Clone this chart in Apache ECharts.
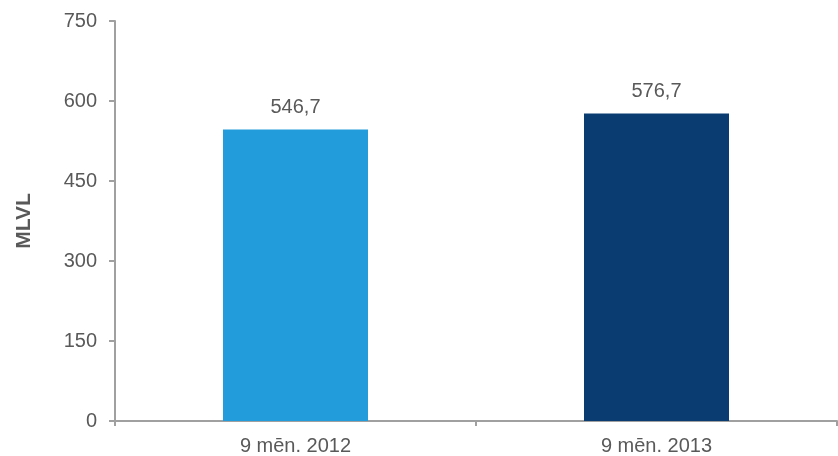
<!DOCTYPE html>
<html><head><meta charset="utf-8">
<script src="https://cdn.jsdelivr.net/npm/echarts@6/dist/echarts.min.js"></script>
<style>html,body{margin:0;padding:0;background:#fff}#c{width:838px;height:456px}</style>
</head><body><div id="c"></div>
<script>
const categories = ['9 mēn. 2012', '9 mēn. 2013'];
const values = [546.7, 576.7];
const barColors = ['#229CDA', '#0A3C72'];
const yTicks = [0, 150, 300, 450, 600, 750];
const yName = 'MLVL';

const chart = echarts.init(document.getElementById('c'), null, {renderer: 'canvas'});
const font = 'Liberation Sans, Arial, sans-serif';
chart.setOption({
  animation: false,
  grid: {left: 115, right: 1, top: 21, bottom: 35, containLabel: false},
  xAxis: {
    type: 'category', data: categories,
    axisLine: {lineStyle: {color: '#A0A0A0', width: 2}},
    axisTick: {show: true, length: 5, lineStyle: {color: '#A0A0A0', width: 2}},
    axisLabel: {color: '#595959', fontSize: 20, fontFamily: font, margin: 15}
  },
  yAxis: {
    type: 'value', min: yTicks[0], max: yTicks[yTicks.length - 1], interval: 150,
    name: yName, nameLocation: 'middle', nameGap: 80, nameRotate: 90,
    nameTextStyle: {color: '#595959', fontSize: 21, fontWeight: 'bold', fontFamily: font},
    axisLine: {show: true, lineStyle: {color: '#A0A0A0', width: 2}},
    axisTick: {show: true, length: 6, lineStyle: {color: '#A0A0A0', width: 2}},
    splitLine: {show: false},
    axisLabel: {color: '#595959', fontSize: 20, fontFamily: font, margin: 18}
  },
  series: [{
    type: 'bar', barWidth: 145,
    data: values.map((v, i) => ({value: v, itemStyle: {color: barColors[i]}})),
    label: {show: true, position: 'top', distance: 12, color: '#595959', fontSize: 20, fontFamily: font,
      formatter: p => p.value.toFixed(1).replace('.', ',')}
  }]
});
</script></body></html>
